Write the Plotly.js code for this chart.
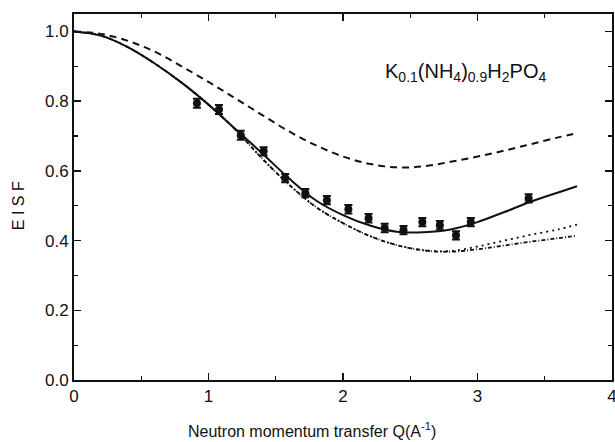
<!DOCTYPE html>
<html>
<head>
<meta charset="utf-8">
<script src="https://cdn.plot.ly/plotly-3.0.1.min.js"></script>
<style>html,body{margin:0;padding:0;background:#fff;}#chart{width:615px;height:442px;}</style>
</head>
<body>
<div id="chart"></div>
<script>
// Experimental EISF data points
const dataQ = [0.914, 1.078, 1.24, 1.41, 1.57, 1.72, 1.88, 2.04, 2.19, 2.31, 2.45, 2.59, 2.72, 2.84, 2.95, 3.38];
const dataEISF = [0.794, 0.776, 0.702, 0.656, 0.579, 0.536, 0.516, 0.49, 0.464, 0.436, 0.43, 0.453, 0.444, 0.415, 0.453, 0.521];
const dataErr = [0.013, 0.013, 0.013, 0.012, 0.012, 0.012, 0.012, 0.012, 0.012, 0.012, 0.012, 0.012, 0.012, 0.012, 0.012, 0.012];

// Model curves
const curveQ = [0, 0.2, 0.4, 0.6, 0.8, 1.0, 1.2, 1.4, 1.6, 1.8, 2.0, 2.2, 2.4, 2.6, 2.8, 3.0, 3.2, 3.4, 3.6, 3.74];
const solidEISF = [1.0, 0.988, 0.955, 0.908, 0.853, 0.79, 0.72, 0.65, 0.578, 0.515, 0.473, 0.443, 0.425, 0.424, 0.432, 0.453, 0.482, 0.512, 0.538, 0.556];
const dashedEISF = [1.0, 0.993, 0.973, 0.942, 0.9, 0.855, 0.808, 0.76, 0.713, 0.673, 0.641, 0.62, 0.61, 0.613, 0.626, 0.641, 0.658, 0.677, 0.696, 0.708];
const dashdotEISF = [1.0, 0.988, 0.955, 0.908, 0.853, 0.79, 0.718, 0.635, 0.56, 0.496, 0.45, 0.413, 0.387, 0.372, 0.368, 0.375, 0.386, 0.397, 0.407, 0.414];
const dottedEISF = [1.0, 0.988, 0.955, 0.908, 0.853, 0.79, 0.718, 0.635, 0.56, 0.496, 0.45, 0.413, 0.387, 0.372, 0.37, 0.383, 0.4, 0.417, 0.432, 0.446];

const xTickVals = [0, 1, 2, 3, 4];
const xTickText = ['0', '1', '2', '3', '4'];
const yTickVals = [0, 0.2, 0.4, 0.6, 0.8, 1.0];
const yTickText = ['0.0', '0.2', '0.4', '0.6', '0.8', '1.0'];

const xTitle = 'Neutron momentum transfer Q(A<sup>-1</sup>)';
const yTitle = 'E I S F';
const compound = 'K<sub>0.1</sub>(NH<sub>4</sub>)<sub>0.9</sub>H<sub>2</sub>PO<sub>4</sub>';

const FONT = 'Liberation Sans, Arial, Helvetica, sans-serif';

const traces = [
  {x: curveQ, y: dashedEISF, mode: 'lines', line: {color: '#111', width: 2, dash: '7px,5px', shape: 'spline'}, hoverinfo: 'skip'},
  {x: curveQ, y: dottedEISF, mode: 'lines', line: {color: '#111', width: 1.8, dash: '2px,4px', shape: 'spline'}, hoverinfo: 'skip'},
  {x: curveQ, y: dashdotEISF, mode: 'lines', line: {color: '#111', width: 1.8, dash: '4px,2px,1px,2px', shape: 'spline'}, hoverinfo: 'skip'},
  {x: curveQ, y: solidEISF, mode: 'lines', line: {color: '#111', width: 2, shape: 'spline'}, hoverinfo: 'skip'},
  {x: dataQ, y: dataEISF, mode: 'markers',
   marker: {color: '#111', size: 8, symbol: 'circle'},
   error_y: {type: 'data', array: dataErr, visible: true, color: '#111', thickness: 2, width: 4}}
];

const layout = {
  width: 615, height: 442,
  margin: {l: 74, r: 3, t: 14, b: 62},
  paper_bgcolor: '#fff', plot_bgcolor: '#fff',
  showlegend: false,
  font: {family: FONT, color: '#111', size: 17},
  xaxis: {
    range: [0, 4], tickvals: xTickVals, ticktext: xTickText,
    showgrid: false, zeroline: false,
    showline: true, linecolor: '#111', linewidth: 2, mirror: 'ticks',
    ticks: 'inside', ticklen: 7, tickwidth: 1.5, tickcolor: '#111',
    minor: {ticks: 'inside', dtick: 0.5, ticklen: 4, tickwidth: 1.2, tickcolor: '#111', showgrid: false},
    tickfont: {family: FONT, size: 17, color: '#111'},
    ticklabeloverflow: 'allow'
  },
  yaxis: {
    range: [0, 1.05], tickvals: yTickVals, ticktext: yTickText,
    showgrid: false, zeroline: false,
    showline: true, linecolor: '#111', linewidth: 2, mirror: 'ticks',
    ticks: 'inside', ticklen: 7, tickwidth: 1.5, tickcolor: '#111',
    minor: {ticks: 'inside', dtick: 0.1, ticklen: 4, tickwidth: 1.2, tickcolor: '#111', showgrid: false},
    tickfont: {family: FONT, size: 17, color: '#111'},
    ticklabeloverflow: 'allow'
  },
  annotations: [
    {x: 2.91, y: 0.883, xref: 'x', yref: 'y', showarrow: false, text: compound,
     font: {family: FONT, size: 20, color: '#111'}},
    {x: 0.442, y: -0.137, xref: 'paper', yref: 'paper', showarrow: false, text: xTitle,
     xanchor: 'center', yanchor: 'middle', font: {family: FONT, size: 16, color: '#111'}},
    {x: -0.104, y: 0.475, xref: 'paper', yref: 'paper', showarrow: false, text: yTitle, textangle: -90,
     xanchor: 'center', yanchor: 'middle', font: {family: FONT, size: 16, color: '#111'}}
  ]
};

Plotly.newPlot('chart', traces, layout, {displayModeBar: false, staticPlot: true});
</script>
</body>
</html>
